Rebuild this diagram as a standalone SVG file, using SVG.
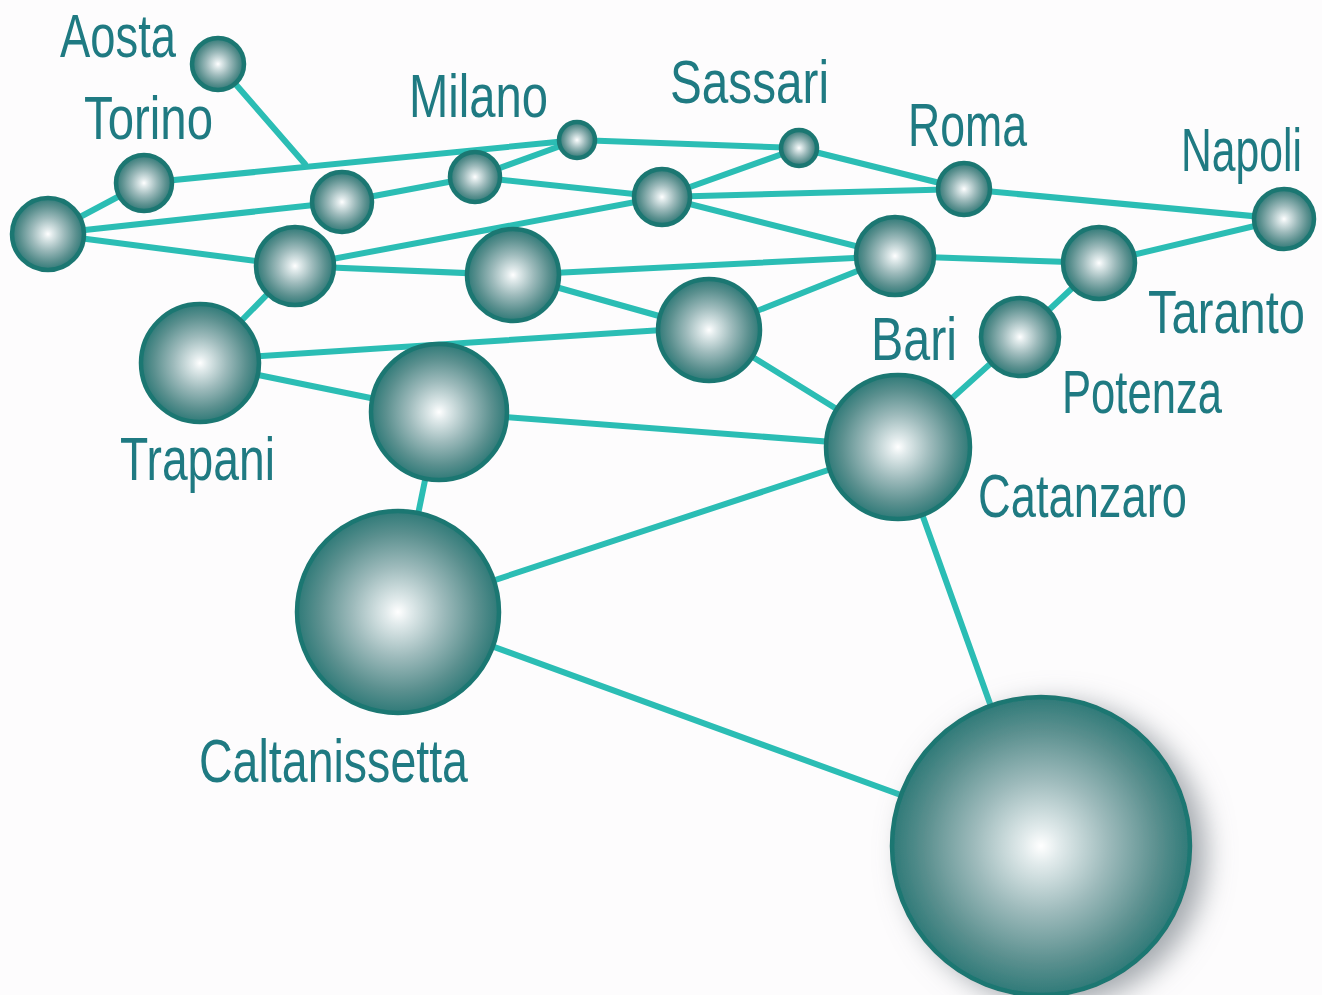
<svg xmlns="http://www.w3.org/2000/svg" width="1322" height="995" viewBox="0 0 1322 995">
<style>
.edge{stroke:#2bbdb4;stroke-width:6;fill:none;stroke-linecap:round}
.node{fill:url(#ball);stroke:#1b7772;stroke-width:4.5}
.lbl{font-family:"Liberation Sans",Arial,sans-serif;font-size:61px;fill:#1f7a82}
</style>
<defs>
<radialGradient id="ball" cx="0.5" cy="0.5" r="0.5">
<stop offset="0" stop-color="#ffffff"/>
<stop offset="0.12" stop-color="#e2ebec"/>
<stop offset="0.45" stop-color="#9dbabb"/>
<stop offset="0.78" stop-color="#5b908f"/>
<stop offset="1" stop-color="#2f7a78"/>
</radialGradient>
<filter id="shadow" x="-30%" y="-30%" width="160%" height="160%">
<feGaussianBlur in="SourceAlpha" stdDeviation="14"/>
<feOffset dx="14" dy="8" result="b"/>
<feFlood flood-color="#7d858c" flood-opacity="0.7"/>
<feComposite in2="b" operator="in"/>
<feMerge><feMergeNode/><feMergeNode in="SourceGraphic"/></feMerge>
</filter>
</defs>
<rect width="1322" height="995" fill="#fdfcfd"/>
<g id="connectors">
<line class="edge" x1="218" y1="64" x2="305" y2="164"/>
<line class="edge" x1="144" y1="183" x2="577" y2="140"/>
<line class="edge" x1="577" y1="140" x2="799" y2="148"/>
<line class="edge" x1="799" y1="148" x2="964" y2="189"/>
<line class="edge" x1="964" y1="189" x2="1284" y2="219"/>
<line class="edge" x1="48" y1="234" x2="144" y2="183"/>
<line class="edge" x1="48" y1="234" x2="342" y2="202"/>
<line class="edge" x1="342" y1="202" x2="475" y2="177"/>
<line class="edge" x1="475" y1="177" x2="577" y2="140"/>
<line class="edge" x1="475" y1="177" x2="662" y2="197"/>
<line class="edge" x1="48" y1="234" x2="295" y2="266"/>
<line class="edge" x1="295" y1="266" x2="662" y2="197"/>
<line class="edge" x1="662" y1="197" x2="799" y2="148"/>
<line class="edge" x1="662" y1="197" x2="964" y2="189"/>
<line class="edge" x1="662" y1="197" x2="895" y2="256"/>
<line class="edge" x1="295" y1="266" x2="513" y2="275"/>
<line class="edge" x1="513" y1="275" x2="895" y2="256"/>
<line class="edge" x1="513" y1="275" x2="709" y2="330"/>
<line class="edge" x1="709" y1="330" x2="895" y2="256"/>
<line class="edge" x1="895" y1="256" x2="1099" y2="263"/>
<line class="edge" x1="1099" y1="263" x2="1284" y2="219"/>
<line class="edge" x1="1099" y1="263" x2="1020" y2="337"/>
<line class="edge" x1="1020" y1="337" x2="898" y2="447"/>
<line class="edge" x1="295" y1="266" x2="200" y2="363"/>
<line class="edge" x1="200" y1="360" x2="709" y2="327"/>
<line class="edge" x1="200" y1="363" x2="439" y2="412"/>
<line class="edge" x1="439" y1="412" x2="898" y2="447"/>
<line class="edge" x1="709" y1="330" x2="898" y2="447"/>
<line class="edge" x1="439" y1="412" x2="398" y2="612"/>
<line class="edge" x1="398" y1="612" x2="898" y2="447"/>
<line class="edge" x1="398" y1="612" x2="1041" y2="846"/>
<line class="edge" x1="898" y1="447" x2="1041" y2="846"/>
</g>
<g id="n-aosta"><circle class="node" cx="218" cy="64" r="26"/><text class="lbl" x="60" y="57" textLength="116" lengthAdjust="spacingAndGlyphs">Aosta</text></g>
<g id="n-torino"><circle class="node" cx="144" cy="183" r="28"/><text class="lbl" x="84" y="139" textLength="129" lengthAdjust="spacingAndGlyphs">Torino</text></g>
<g id="n-left"><circle class="node" cx="48" cy="234" r="36"/></g>
<g id="n-4"><circle class="node" cx="342" cy="202" r="30"/></g>
<g id="n-5"><circle class="node" cx="475" cy="177" r="25"/></g>
<g id="n-milano"><circle class="node" cx="577" cy="140" r="18"/><text class="lbl" x="409" y="117" textLength="139" lengthAdjust="spacingAndGlyphs">Milano</text></g>
<g id="n-sassari"><circle class="node" cx="799" cy="148" r="18"/><text class="lbl" x="670" y="103" textLength="159" lengthAdjust="spacingAndGlyphs">Sassari</text></g>
<g id="n-8"><circle class="node" cx="662" cy="197" r="28"/></g>
<g id="n-roma"><circle class="node" cx="964" cy="189" r="26"/><text class="lbl" x="908" y="146" textLength="119" lengthAdjust="spacingAndGlyphs">Roma</text></g>
<g id="n-napoli"><circle class="node" cx="1284" cy="219" r="30"/><text class="lbl" x="1181" y="171" textLength="121" lengthAdjust="spacingAndGlyphs">Napoli</text></g>
<g id="n-11"><circle class="node" cx="295" cy="266" r="39"/></g>
<g id="n-12"><circle class="node" cx="513" cy="275" r="46"/></g>
<g id="n-13"><circle class="node" cx="895" cy="256" r="39"/></g>
<g id="n-taranto"><circle class="node" cx="1099" cy="263" r="36"/><text class="lbl" x="1148" y="333" textLength="157" lengthAdjust="spacingAndGlyphs">Taranto</text></g>
<g id="n-15"><circle class="node" cx="709" cy="330" r="51"/></g>
<g id="n-bari"><text class="lbl" x="871" y="360" textLength="86" lengthAdjust="spacingAndGlyphs">Bari</text></g>
<g id="n-potenza"><circle class="node" cx="1020" cy="337" r="39"/><text class="lbl" x="1062" y="413" textLength="160" lengthAdjust="spacingAndGlyphs">Potenza</text></g>
<g id="n-trapani"><circle class="node" cx="200" cy="363" r="59"/><text class="lbl" x="120" y="480" textLength="155" lengthAdjust="spacingAndGlyphs">Trapani</text></g>
<g id="n-18"><circle class="node" cx="439" cy="412" r="68"/></g>
<g id="n-catanzaro"><circle class="node" cx="898" cy="447" r="72"/><text class="lbl" x="978" y="517" textLength="209" lengthAdjust="spacingAndGlyphs">Catanzaro</text></g>
<g id="n-caltanissetta"><circle class="node" cx="398" cy="612" r="101"/><text class="lbl" x="199" y="782" textLength="269" lengthAdjust="spacingAndGlyphs">Caltanissetta</text></g>
<g id="n-big"><circle class="node" cx="1041" cy="846" r="149" filter="url(#shadow)"/></g>
</svg>
